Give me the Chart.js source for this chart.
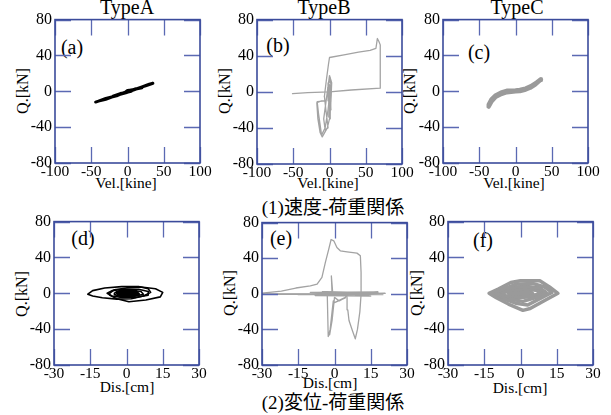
<!doctype html>
<html><head><meta charset="utf-8">
<title>Type A/B/C hysteresis</title>
<script src="https://cdn.jsdelivr.net/npm/chart.js@4"></script>
<style>
  html, body { margin: 0; padding: 0; background: #fff; }
  body { width: 611px; height: 415px; position: relative; overflow: hidden; font-family: "Liberation Serif", "Times New Roman", serif; color: #000; }
  canvas { position: absolute; }
  .t { position: absolute; white-space: nowrap; transform: translate(-50%, -50%); line-height: 1; }
  .rot { transform: translate(-50%, -50%) rotate(-90deg); }
  .cap { font-family: "Liberation Serif", "Noto Sans CJK JP", serif; font-size: 19px; }
</style>
</head><body>

<div class="t" style="left:127px;top:7px;font-size:20px">TypeA</div>
<div class="t" style="left:324px;top:7px;font-size:20px">TypeB</div>
<div class="t" style="left:517px;top:7px;font-size:20px">TypeC</div>

<div class="t" style="left:72px;top:47px;font-size:20px">(a)</div>
<div class="t" style="left:278px;top:45px;font-size:20px">(b)</div>
<div class="t" style="left:479px;top:52px;font-size:20px">(c)</div>
<div class="t" style="left:83px;top:238px;font-size:20px">(d)</div>
<div class="t" style="left:281px;top:238px;font-size:20px">(e)</div>
<div class="t" style="left:483px;top:240px;font-size:20px">(f)</div>

<div class="t rot" style="left:23px;top:91px;font-size:16px">Q.[kN]</div>
<div class="t rot" style="left:225px;top:91px;font-size:16px">Q.[kN]</div>
<div class="t rot" style="left:410px;top:91px;font-size:16px">Q.[kN]</div>
<div class="t rot" style="left:22px;top:294px;font-size:16px">Q.[kN]</div>
<div class="t rot" style="left:230px;top:293px;font-size:16px">Q.[kN]</div>
<div class="t rot" style="left:417px;top:293px;font-size:16px">Q.[kN]</div>

<div class="t" style="left:126px;top:183px;font-size:15.5px">Vel.[kine]</div>
<div class="t" style="left:328px;top:183px;font-size:15.5px">Vel.[kine]</div>
<div class="t" style="left:514px;top:183px;font-size:15.5px">Vel.[kine]</div>
<div class="t" style="left:127px;top:387px;font-size:15.5px">Dis.[cm]</div>
<div class="t" style="left:330px;top:383px;font-size:15.5px">Dis.[cm]</div>
<div class="t" style="left:520px;top:388px;font-size:15.5px">Dis.[cm]</div>

<div class="t cap" style="left:333px;top:207px">(1)速度-荷重関係</div>
<div class="t cap" style="left:333px;top:402px">(2)変位-荷重関係</div>

<canvas id="pa"></canvas><canvas id="pb"></canvas><canvas id="pc"></canvas>
<canvas id="pd"></canvas><canvas id="pe"></canvas><canvas id="pf"></canvas>

<script>
// tick values
const velTicks = [-100, -50, 0, 50, 100];
const disTicks = [-30, -15, 0, 15, 30];
const qTicks = [-80, -40, 0, 40, 80];

// (a) TypeA velocity - load
const aVel = [[-44,-12],[-35,-9.5],[-25,-7],[-15,-4.5],[-5,-2],[5,1],[15,3.5],[25,6],[35,9],[30,8],[20,5],[10,2],[0,-1],[-10,-3.5],[-20,-6],[-30,-9],[-40,-11],[-30,-8],[-15,-5],[-5,-1.5],[5,1.5],[15,3],[20,4],[10,2.5],[0,0],[-10,-3],[-20,-5.5],[-10,-2.5],[0,-1],[10,2],[0,1],[-5,-2],[5,0]];

// (b) TypeB velocity - load
const bVelBig = [[-51,-2],[-30,-1],[0,0],[30,2],[70,4],[70,30],[70,52],[68,56],[66,59],[64,48],[56,46],[40,44],[20,41],[0,38],[-1.5,30],[-4,15],[-6,2],[-7,-5]];
const bVelLoops = [[-7,-5],[-5,-20],[-2,-40],[-6,-42],[-8,-30],[-3,0],[0,18],[3,10],[2,-10],[0,-30],[-3,-40],[-10,-50],[-13,-45],[-16,-30],[-17.5,-12],[-11,-10],[-6,-10],[-17,-11],[-15,-25],[-12,-42],[-11,-48],[-6,-40],[-2,-20],[0,-5],[2,10],[1,16],[-1,10],[-2,-10]];
const bVelCore = [[-1,-5],[1,5],[0,-25],[2,5],[-1,-15],[1,-30],[0,0],[2,-20],[-2,5],[1,-10],[0,8],[-1,-28],[2,0]];

// (c) TypeC velocity - load
const cVel = [[-37,-17],[-33,-11],[-28,-6.5],[-20,-3],[-12,-1],[0,0],[6,0.3],[14,2],[20,4],[27,7.5],[34,12.5],[35,13.5],[28,9],[21,5.5],[14,3],[6,1.5],[0,1],[-12,0.5],[-20,-1.5],[-28,-5],[-33,-9],[-37,-15]];

// (d) TypeA displacement - load
const dLoop1 = [[-16,-1],[-14,3],[-9,6],[-2,7.5],[5,7.5],[9,5],[10,1],[7,-3],[2,-6],[-4,-6.5],[-10,-5],[-14,-3],[-16,-1]];
const dLoop2 = [[-7,0],[-5,4],[0,6],[6,7],[12,5],[15,1],[14,-4],[8,-7.5],[1,-9.5],[-4,-6],[-7,-2],[-7,0]];
const dLoop3 = [[-8,0],[-6,3],[-1,4.5],[5,4.5],[9,2],[9,-2],[4,-4.5],[-2,-4.5],[-6,-3],[-8,0]];
const dLoop4 = [[-5,0],[-3,3],[2,3.5],[6,2],[7,-1],[3,-3.5],[-2,-3.5],[-5,-1.5],[-5,0]];
const dCore = [[-3,0],[0,2.5],[4,1.5],[5,-1],[1,-3],[-3,-2],[-4,1],[0,2],[3,1],[4,-1.5],[0,-2.5],[-2,-1],[-1,1],[2,0.5],[2,-1],[-1,-1]];

// (e) TypeB displacement - load
const eBig = [[-30,0.8],[-22,3],[-16,6.5],[-10,9],[-7.2,11],[-5.2,18.5],[-3.8,35],[-2.4,50],[-1.4,61],[-0.3,59.5],[1,52],[2.4,48.3],[5.2,47.2],[9.3,45.7],[10.7,42.7],[11,24],[11,-0.2],[10.5,-20],[9.5,-40],[8.6,-50.5],[7.5,-42],[6,-30],[5.5,-18],[5.2,-5],[5,0],[-10,-0.5],[-30,-0.5]];
const eBand = [[-28,0],[21,0.5],[-15,-1],[20,-1],[-10,1.5],[18,2],[-8,-2],[15,-2.5],[-5,2.5],[12,1],[-12,0],[20,0],[-6,-1],[14,1]];
const eSpikes = [[-1,0],[-1.3,20],[-0.8,3],[-3,0],[-2.6,-48],[-1.8,-40],[-1,-20],[-0.5,-8],[-2,-46],[-1,-30],[0,-4],[2,-8],[4.5,-4],[0,-10],[4.5,-4.5],[5,-1]];

// (f) TypeC displacement - load
const fLoop1 = [[-13,0],[-9,5],[-4,12],[0,14],[8,14],[12,7],[15.5,0],[10,-8],[4,-17],[1,-19],[-5,-12],[-10,-5],[-13,0]];
const fLoop2 = [[-12,0],[-7,5],[-2,10],[5,11],[10,7],[13,1],[8,-6],[3,-13],[-2,-11],[-8,-5],[-12,0]];
const fLoop3 = [[-11,1],[-5,6],[2,8],[8,6],[11,0],[6,-5],[1,-9],[-5,-6],[-11,1]];
const fLoop4 = [[-8,0],[-3,4],[3,5],[7,3],[8,-1],[3,-4],[-2,-5],[-6,-3],[-8,0]];
const fLoop5 = [[-5,0],[0,2],[4,2],[5,0],[1,-2],[-3,-2],[-5,0]];
const fLoop6 = [[-12,-1],[-6,2],[0,5],[6,4],[10,2],[6,-2],[1,-4],[-6,-3],[-12,-1]];

const BLACK = '#000', GRAY = '#a3a3a3', DGRAY = '#9a9a9a';
const FRAME = '#3b4b9b', TICK = '#5b69b3';
const SERIF = "'Liberation Serif', 'Times New Roman', serif";

// inward tick marks on all four sides plus the frame
const frameTicks = {
  id: 'frameTicks',
  afterDatasetsDraw(chart) {
    const { ctx, chartArea: a, scales: { x, y } } = chart;
    const len = 16;
    ctx.save();
    ctx.strokeStyle = TICK;
    ctx.lineWidth = 1.3;
    ctx.beginPath();
    x.ticks.forEach(t => {
      const px = Math.round(x.getPixelForValue(t.value)) + 0.5;
      ctx.moveTo(px, a.bottom); ctx.lineTo(px, a.bottom - len);
      ctx.moveTo(px, a.top); ctx.lineTo(px, a.top + len);
    });
    y.ticks.forEach(t => {
      const py = Math.round(y.getPixelForValue(t.value)) + 0.5;
      ctx.moveTo(a.left, py); ctx.lineTo(a.left + len, py);
      ctx.moveTo(a.right, py); ctx.lineTo(a.right - len, py);
    });
    ctx.stroke();
    ctx.strokeStyle = FRAME;
    ctx.lineWidth = 1.6;
    ctx.strokeRect(a.left, a.top, a.right - a.left, a.bottom - a.top);
    ctx.restore();
  }
};

const PADL = 50, PADT = 12, PADR = 14, PADB = 24;

function ds(points, color, width) {
  return {
    data: points.map(p => ({ x: p[0], y: p[1] })),
    showLine: true, pointRadius: 0, borderColor: color, borderWidth: width,
    borderJoinStyle: 'round', borderCapStyle: 'round', tension: 0, fill: false
  };
}

function panel(id, box, xTicks, datasets) {
  const cv = document.getElementById(id);
  cv.width = PADL + box.w + PADR;
  cv.height = PADT + box.h + PADB;
  cv.style.left = (box.left - PADL) + 'px';
  cv.style.top = (box.top - PADT) + 'px';
  new Chart(cv, {
    type: 'scatter',
    data: { datasets },
    options: {
      responsive: false, animation: false, devicePixelRatio: 1,
      layout: { padding: { left: 0, top: PADT, right: PADR, bottom: 0 } },
      plugins: { legend: { display: false }, tooltip: { enabled: false } },
      scales: {
        x: {
          type: 'linear', min: xTicks[0], max: xTicks[xTicks.length - 1],
          afterBuildTicks: s => { s.ticks = xTicks.map(v => ({ value: v })); },
          afterFit: s => { s.height = PADB; },
          grid: { display: false, drawTicks: false }, border: { display: false },
          ticks: { color: '#000', padding: 0, autoSkip: false, maxRotation: 0,
            font: { family: SERIF, size: 15.5, lineHeight: 1.1 }, callback: v => String(v) }
        },
        y: {
          type: 'linear', min: qTicks[0], max: qTicks[qTicks.length - 1],
          afterBuildTicks: s => { s.ticks = qTicks.map(v => ({ value: v })); },
          afterFit: s => { s.width = PADL; },
          grid: { display: false, drawTicks: false }, border: { display: false },
          ticks: { color: '#000', padding: 3, autoSkip: false,
            font: { family: SERIF, size: 16 }, callback: v => String(v) }
        }
      }
    },
    plugins: [frameTicks]
  });
}

panel('pa', { left: 55, top: 19, w: 145, h: 144 }, velTicks, [ds(aVel, BLACK, 3)]);
panel('pb', { left: 257, top: 19, w: 145, h: 145 }, velTicks,
  [ds(bVelBig, GRAY, 1.3), ds(bVelLoops, GRAY, 1.3), ds(bVelCore, GRAY, 1.3)]);
panel('pc', { left: 443, top: 19, w: 145, h: 144 }, velTicks, [ds(cVel, DGRAY, 4.5)]);
panel('pd', { left: 54, top: 221, w: 145, h: 144 }, disTicks,
  [ds(dLoop1, BLACK, 1.6), ds(dLoop2, BLACK, 1.6), ds(dLoop3, BLACK, 1.6), ds(dLoop4, BLACK, 1.6), ds(dCore, BLACK, 3)]);
panel('pe', { left: 262, top: 222, w: 145, h: 143 }, disTicks,
  [ds(eBig, GRAY, 1.3), ds(eBand, GRAY, 1.3), ds(eSpikes, GRAY, 1.3)]);
panel('pf', { left: 448, top: 221, w: 145, h: 144 }, disTicks,
  [ds(fLoop1, DGRAY, 3.5), ds(fLoop2, DGRAY, 3.5), ds(fLoop3, DGRAY, 3.5), ds(fLoop4, DGRAY, 3.5), ds(fLoop5, DGRAY, 3.5), ds(fLoop6, DGRAY, 3.5)]);
</script>
</body></html>
